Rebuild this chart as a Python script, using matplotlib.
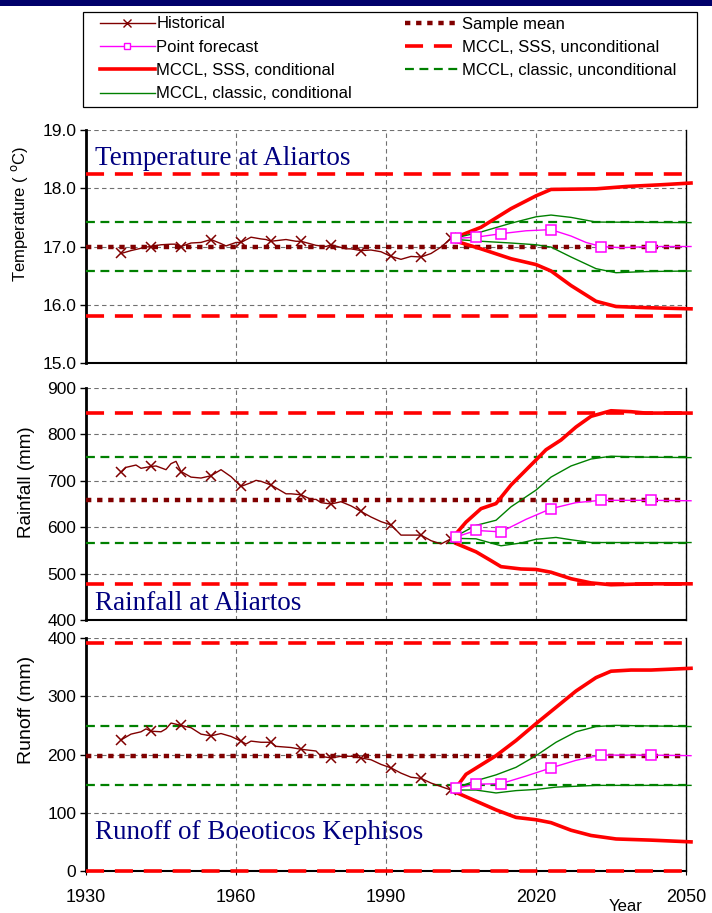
import matplotlib
matplotlib.use("Agg")
import matplotlib.pyplot as plt
from matplotlib.lines import Line2D
from matplotlib.patches import Rectangle

plt.rcParams['font.family'] = ['Liberation Sans', 'DejaVu Sans']

# ---------------- DATA ----------------
# Temperature (deg C)
T_hist_years = [1937, 1939, 1940, 1942, 1943, 1945, 1947, 1948, 1949, 1951, 1953, 1955, 1957, 1958,
                1960, 1961, 1963, 1965, 1966, 1967, 1970, 1972, 1973, 1976, 1978, 1979, 1982, 1983,
                1985, 1987, 1989, 1991, 1993, 1995, 1997, 1999, 2001, 2003]
T_hist = [16.88, 16.93, 16.95, 16.99, 17.00, 17.03, 17.04, 17.04, 17.00, 17.06, 17.07, 17.12, 17.05, 17.01,
          17.07, 17.07, 17.16, 17.13, 17.12, 17.09, 17.12, 17.09, 17.09, 17.02, 17.00, 17.03, 16.96, 16.96,
          16.93, 16.94, 16.91, 16.83, 16.78, 16.83, 16.82, 16.88, 16.99, 17.14]
T_pf_years = [2004, 2008, 2013, 2018, 2023, 2027, 2030, 2033, 2037, 2043, 2051]
T_pf = [17.14, 17.16, 17.22, 17.27, 17.29, 17.18, 17.07, 17.00, 16.98, 17.00, 17.00]
T_sss_up_years = [2004, 2009, 2015, 2020, 2023, 2032, 2038, 2045, 2051]
T_sss_up = [17.16, 17.33, 17.65, 17.87, 17.98, 17.99, 18.03, 18.06, 18.09]
T_sss_lo_years = [2004, 2009, 2015, 2020, 2023, 2027, 2032, 2036, 2042, 2051]
T_sss_lo = [17.09, 16.96, 16.79, 16.69, 16.58, 16.33, 16.06, 15.97, 15.95, 15.93]
T_cl_up_years = [2004, 2009, 2015, 2020, 2023, 2027, 2032, 2051]
T_cl_up = [17.15, 17.25, 17.40, 17.51, 17.54, 17.50, 17.42, 17.41]
T_cl_lo_years = [2004, 2009, 2015, 2020, 2023, 2027, 2032, 2036, 2042, 2051]
T_cl_lo = [17.12, 17.09, 17.06, 17.03, 16.99, 16.82, 16.62, 16.55, 16.57, 16.58]
T_mean = 17.0
T_sss_unc = [15.80, 18.25]
T_cl_unc = [16.58, 17.42]

# Rainfall (mm)
R_hist_years = [1937, 1938, 1940, 1941, 1943, 1944, 1946, 1947, 1948, 1949, 1951, 1953, 1955, 1957,
                1959, 1961, 1963, 1964, 1965, 1967, 1970, 1971, 1973, 1975, 1976, 1977, 1979, 1981,
                1983, 1985, 1987, 1989, 1991, 1993, 1995, 1997, 1999, 2001, 2003]
R_hist = [718, 729, 734, 727, 731, 732, 724, 737, 742, 720, 708, 706, 711, 724,
          709, 688, 696, 701, 699, 691, 672, 672, 670, 660, 660, 653, 650, 655,
          646, 634, 622, 612, 605, 583, 583, 583, 571, 564, 575]
R_pf_years = [2004, 2008, 2013, 2018, 2023, 2028, 2033, 2043, 2051]
R_pf = [579, 593, 590, 617, 640, 653, 658, 658, 657]
R_sss_up_years = [2004, 2006, 2009, 2012, 2015, 2020, 2022, 2025, 2028, 2031, 2035, 2039, 2042, 2051]
R_sss_up = [586, 611, 640, 651, 691, 745, 767, 788, 816, 839, 851, 849, 846, 846]
R_sss_lo_years = [2004, 2008, 2011, 2013, 2017, 2020, 2023, 2027, 2031, 2035, 2042, 2051]
R_sss_lo = [565, 547, 528, 515, 510, 509, 503, 489, 480, 476, 478, 478]
R_cl_up_years = [2004, 2008, 2012, 2015, 2020, 2023, 2027, 2031, 2035, 2042, 2051]
R_cl_up = [581, 604, 615, 644, 680, 708, 732, 747, 753, 751, 750]
R_cl_lo_years = [2004, 2008, 2013, 2017, 2020, 2024, 2027, 2031, 2051]
R_cl_lo = [576, 575, 560, 566, 574, 578, 573, 567, 567]
R_mean = 658
R_sss_unc = [478, 846]
R_cl_unc = [567, 752]

# Runoff (mm)
Q_hist_years = [1937, 1939, 1941, 1942, 1943, 1945, 1946, 1947, 1949, 1951, 1953, 1955, 1957, 1959,
                1961, 1962, 1963, 1965, 1967, 1968, 1971, 1973, 1976, 1977, 1979, 1981, 1983, 1985,
                1987, 1989, 1991, 1993, 1995, 1997, 1999, 2001, 2003]
Q_hist = [225, 235, 239, 244, 240, 239, 244, 254, 250, 246, 235, 232, 236, 231,
          223, 218, 223, 221, 221, 214, 212, 209, 206, 197, 194, 197, 197, 194,
          191, 183, 177, 168, 161, 159, 151, 145, 139]
Q_pf_years = [2004, 2008, 2013, 2018, 2023, 2028, 2033, 2043, 2051]
Q_pf = [142, 149, 150, 163, 177, 190, 199, 199, 198]
Q_sss_up_years = [2004, 2006, 2009, 2012, 2016, 2020, 2025, 2028, 2032, 2035, 2039, 2043, 2051]
Q_sss_up = [143, 166, 182, 198, 224, 253, 288, 309, 332, 343, 345, 345, 348]
Q_sss_lo_years = [2004, 2008, 2012, 2016, 2020, 2023, 2027, 2031, 2036, 2043, 2051]
Q_sss_lo = [135, 120, 105, 92, 88, 83, 70, 61, 55, 53, 50]
Q_cl_up_years = [2004, 2008, 2012, 2016, 2020, 2024, 2028, 2032, 2036, 2043, 2051]
Q_cl_up = [143, 155, 165, 178, 198, 221, 239, 248, 250, 249, 248]
Q_cl_lo_years = [2004, 2008, 2012, 2016, 2020, 2024, 2032, 2051]
Q_cl_lo = [139, 139, 134, 138, 140, 144, 147, 147]
Q_mean = 197
Q_sss_unc = [0, 392]
Q_cl_unc = [147, 249]

hist_marker_years = [1937, 1943, 1949, 1955, 1961, 1967, 1973, 1979, 1985, 1991, 1997, 2003]
pf_marker_years = [2004, 2008, 2013, 2023, 2033, 2043]

x_ticks = [1930, 1960, 1990, 2020, 2050]

panels = [
    dict(title="Temperature at Aliartos", ylabel="Temperature ( $^{\\rm o}$C)", ylsize=12, ylpos=0.64, ylx=-0.093,
         ylim=(15.0, 19.0), yticks=[15.0, 16.0, 17.0, 18.0, 19.0], fmt="{:.1f}",
         hy=T_hist_years, h=T_hist, pfy=T_pf_years, pf=T_pf,
         suy=T_sss_up_years, su=T_sss_up, sly=T_sss_lo_years, sl=T_sss_lo,
         cuy=T_cl_up_years, cu=T_cl_up, cly=T_cl_lo_years, cl=T_cl_lo,
         mean=T_mean, sss_unc=T_sss_unc, cl_unc=T_cl_unc, title_pos=(0.015, 0.93), va='top'),
    dict(title="Rainfall at Aliartos", ylabel="Rainfall (mm)", ylsize=13.5, ylpos=0.595, ylx=-0.085,
         ylim=(400, 900), yticks=[400, 500, 600, 700, 800, 900], fmt="{:.0f}",
         hy=R_hist_years, h=R_hist, pfy=R_pf_years, pf=R_pf,
         suy=R_sss_up_years, su=R_sss_up, sly=R_sss_lo_years, sl=R_sss_lo,
         cuy=R_cl_up_years, cu=R_cl_up, cly=R_cl_lo_years, cl=R_cl_lo,
         mean=R_mean, sss_unc=R_sss_unc, cl_unc=R_cl_unc, title_pos=(0.015, 0.018), va='bottom'),
    dict(title="Runoff of Boeoticos Kephisos", ylabel="Runoff (mm)", ylsize=14, ylpos=0.69, ylx=-0.085,
         ylim=(0, 400), yticks=[0, 100, 200, 300, 400], fmt="{:.0f}",
         hy=Q_hist_years, h=Q_hist, pfy=Q_pf_years, pf=Q_pf,
         suy=Q_sss_up_years, su=Q_sss_up, sly=Q_sss_lo_years, sl=Q_sss_lo,
         cuy=Q_cl_up_years, cu=Q_cl_up, cly=Q_cl_lo_years, cl=Q_cl_lo,
         mean=Q_mean, sss_unc=Q_sss_unc, cl_unc=Q_cl_unc, title_pos=(0.015, 0.11), va='bottom'),
]

# ---------------- STYLES ----------------
C_HIST = '#800000'
C_PF = '#FF00FF'
C_SSS = '#FF0000'
C_CL = '#008000'
C_TITLE = '#000080'

fig = plt.figure(figsize=(7.12, 9.13), dpi=100)
fig.patches.append(Rectangle((0, 1 - 6 / 913), 1, 6 / 913, transform=fig.transFigure,
                             facecolor='#00006a', edgecolor='none', zorder=0))
# legend frame
fig.patches.append(Rectangle((83 / 712, 1 - 107 / 913), 614 / 712, 95 / 913, transform=fig.transFigure,
                             facecolor='white', edgecolor='black', linewidth=0.9, zorder=1))

positions = [(0.1208, 0.6024, 0.8427, 0.2552),
             (0.1208, 0.3209, 0.8427, 0.2541),
             (0.1208, 0.0460, 0.8427, 0.2552)]

for i, (p, pos) in enumerate(zip(panels, positions)):
    ax = fig.add_axes(pos)
    ax.set_xlim(1930, 2050)
    ax.set_ylim(*p['ylim'])
    ax.set_xticks(x_ticks)
    ax.set_yticks(p['yticks'])
    ax.set_yticklabels([p['fmt'].format(v) for v in p['yticks']], fontsize=12.5)
    if i < 2:
        ax.tick_params(axis='x', labelbottom=False, length=0)
    else:
        ax.set_xticklabels([str(v) for v in x_ticks], fontsize=13)
        ax.tick_params(axis='x', length=3, pad=10)
    ax.tick_params(axis='y', length=4, width=1, direction='out', pad=3)
    ax.set_ylabel(p['ylabel'], fontsize=p['ylsize'])
    ax.yaxis.set_label_coords(p['ylx'], p['ylpos'])

    ax.grid(True, axis='both', color='#707070', linestyle=(0, (4, 3)), linewidth=0.8)
    ax.set_axisbelow(True)
    ax.spines['top'].set_visible(False)
    ax.spines['left'].set_linewidth(2.0)
    ax.spines['bottom'].set_linewidth(1.5)
    ax.spines['right'].set_linewidth(1.0)

    # unconditional limits and mean
    for v in p['sss_unc']:
        ax.axhline(v, color=C_SSS, lw=2.6, linestyle=(0, (5, 3)), zorder=3, clip_on=False)
    for v in p['cl_unc']:
        ax.axhline(v, color=C_CL, lw=1.6, linestyle=(0, (4, 2.5)), zorder=3)
    ax.axhline(p['mean'], color=C_HIST, lw=3.2, linestyle=(0, (1.2, 1.3)), zorder=3)

    # conditional limits
    ax.plot(p['suy'], p['su'], color=C_SSS, lw=2.6, zorder=4, clip_on=False)
    ax.plot(p['sly'], p['sl'], color=C_SSS, lw=2.6, zorder=4, clip_on=False)
    ax.plot(p['cuy'], p['cu'], color=C_CL, lw=1.0, zorder=4, clip_on=False)
    ax.plot(p['cly'], p['cl'], color=C_CL, lw=1.0, zorder=4, clip_on=False)

    # historical
    hm = [p['hy'].index(y) for y in hist_marker_years]
    ax.plot(p['hy'], p['h'], color=C_HIST, lw=1.0, marker='x', ms=7, mew=1.1,
            markevery=hm, zorder=5)
    # point forecast
    pm = [p['pfy'].index(y) for y in pf_marker_years]
    ax.plot(p['pfy'], p['pf'], color=C_PF, lw=1.0, marker='s', ms=6.5, mew=1.1,
            mfc='white', mec=C_PF, markevery=pm, zorder=6, clip_on=False)

    ax.text(p['title_pos'][0], p['title_pos'][1], p['title'], transform=ax.transAxes,
            fontsize=19.5, color=C_TITLE, family=['Liberation Serif', 'DejaVu Serif'],
            ha='left', va=p['va'], zorder=7)

fig.text(626 / 712, 1 - 906 / 913, "Year", fontsize=12, ha='center', va='center')

# ---------------- LEGEND ----------------
handles = [
    Line2D([], [], color=C_HIST, lw=1.0, marker='x', ms=6, mew=1.0),
    Line2D([], [], color=C_PF, lw=1.0, marker='s', ms=5, mfc='white', mec=C_PF),
    Line2D([], [], color=C_SSS, lw=2.6),
    Line2D([], [], color=C_CL, lw=1.0),
    Line2D([], [], color=C_HIST, lw=3.2, linestyle=(0, (1.2, 1.3))),
    Line2D([], [], color=C_SSS, lw=2.6, linestyle=(0, (5, 3))),
    Line2D([], [], color=C_CL, lw=1.6, linestyle=(0, (4, 2.5))),
]
labels = ["Historical", "Point forecast", "MCCL, SSS, conditional", "MCCL, classic, conditional",
          "Sample mean", "MCCL, SSS, unconditional", "MCCL, classic, unconditional"]
leg = fig.legend(handles, labels, ncol=2, loc='upper left',
                 bbox_to_anchor=(97 / 712, 1 - 14 / 913),
                 fontsize=12, frameon=False,
                 handlelength=3.3, handletextpad=0.12, labelspacing=0.5,
                 borderpad=0.15, columnspacing=3.15, borderaxespad=0.0)
leg.set_zorder(2)

fig.savefig("out.png", dpi=100)
